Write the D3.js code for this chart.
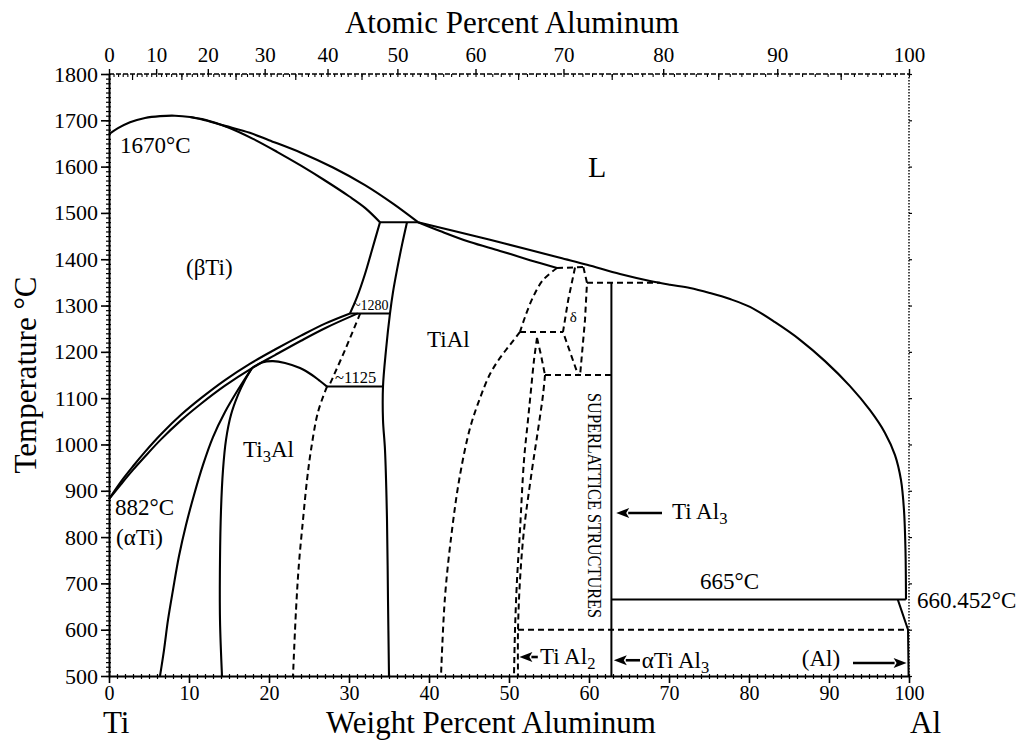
<!DOCTYPE html>
<html>
<head>
<meta charset="utf-8">
<script src="https://cdn.jsdelivr.net/npm/d3@7"></script>
<style>
  body { margin: 0; background: #fff; }
  svg { display: block; }
  text { font-family: "Liberation Serif", "Times New Roman", serif; fill: #000; }
</style>
</head>
<body>
<svg id="chart" width="1032" height="740"></svg>
<script>
// ---- Ti–Al phase diagram: boundaries as [wt% Al, °C] ----
const tempTicks = d3.range(500, 1801, 100);
const wtTicks = d3.range(0, 101, 10);
const atTicks = d3.range(0, 101, 10);

const liquidusBeta = [[0,1670],[1.125,1683],[2.625,1696],[4.5,1705],[6.375,1709],[8.25,1710],[10.125,1707],[12,1700],[14.5,1688],[17.6,1673],[20,1657],[24,1630],[28,1598],[32,1560],[35.5,1520],[38.625,1480]];
const solidusBeta = [[10.125,1707],[12,1701],[15,1684],[18,1660],[21,1632],[24,1602],[27,1570],[30,1536],[32,1511],[33.875,1480]];
const peritectic1480 = [[33.875,1480],[38.625,1480]];
const betaToAlpha = [[33.875,1480],[32.875,1420],[32,1368],[31,1318],[30.125,1283]];
const betaTransus = [[0,882],[1.5,920],[3,953],[4.5,984],[6.5,1022],[9,1064],[11.5,1100],[14.5,1139],[17.6,1174],[20.75,1205],[24,1235],[27,1261],[30.125,1283]];
const alphaTransus = [[0,882],[1.5,914],[3,945],[4.5,974],[6.5,1011],[9,1052],[11.5,1088],[14.5,1127],[17.875,1165],[20.75,1193],[24,1224],[27,1251],[31.1,1283]];
const gammaLeft = [[37.25,1480],[36.625,1431],[36,1377],[35.5,1329],[35.125,1283],[34.625,1204],[34.25,1125],[34.25,1053],[34.5,988],[34.75,837],[34.875,664],[35,500]];
const line1280 = [[30.125,1283],[35.125,1283]];
const line1125 = [[27.25,1125],[34.25,1125]];
const alphaGamma = [[31.4,1283],[29.5,1204],[27.5,1126]];
const ti3AlDome = [[17.875,1165],[19.125,1177],[20.5,1180],[22,1176],[23.875,1165],[25.375,1150],[26.375,1137],[27.25,1125]];
const alphaAlpha2 = [[6.375,500],[6.875,556],[7.375,621],[8,686],[8.75,759],[9.625,826],[10.625,891],[11.75,956],[13,1016],[14.5,1070],[16.125,1118],[17.875,1165]];
const alpha2Left = [[14.125,500],[13.875,621],[13.875,750],[14,858],[14.25,945],[14.625,1010],[15.25,1064],[16.125,1107],[17,1139],[17.875,1165]];
const alpha2Right = [[27.25,1125],[26.125,1070],[25.25,988],[24.75,923],[24.25,837],[23.75,744],[23.375,642],[23,500]];
const liquidusAl = [[38.625,1480],[42.625,1463],[47.625,1442],[52.625,1420],[56.375,1403],[59.75,1388],[63.875,1368],[67.625,1353],[70.125,1345],[72.625,1338],[75.125,1327],[77.625,1314],[80.125,1297],[83.25,1264],[86.375,1226],[89.5,1180],[92.625,1126],[95.125,1074],[97,1025],[98.25,977],[99,923],[99.375,858],[99.56,772],[99.625,665]];
const gammaSolidus = [[38.625,1480],[41.375,1461],[45.125,1437],[48.875,1418],[52.625,1398],[56,1381]];
const peritectic1380 = [[56,1381],[59.3,1383]];
const gammaRightUpper = [[56,1381],[54.25,1355],[53,1318],[52,1275],[51.375,1243]];
const gammaRightLower = [[51.375,1243],[50.125,1215],[48.875,1187],[47.625,1152],[46.375,1100],[45.125,1035],[43.875,934],[42.875,815],[42,671],[41.5,500]];
const line1240 = [[51.375,1243],[56.75,1243]];
const deltaLeft = [[58.25,1382],[57.4,1312],[56.75,1243],[58.6,1152]];
const deltaRight = [[59.3,1383],[59.75,1349],[59.5,1269],[58.9,1152]];
const line1350 = [[59.75,1349],[68.9,1349]];
const line1150 = [[54.5,1150],[62.8,1150]];
const tiAl2Left = [[53.5,1230],[53.125,1182],[52.75,1118],[52.375,1053],[51.875,966],[51.375,815],[51,707],[50.75,599],[50.625,500]];
const tiAl2RightUpper = [[53.5,1230],[54,1193],[54.5,1150]];
const tiAl2RightLower = [[54.5,1150],[54.25,1107],[53.625,1031],[52.875,945],[51.875,815],[51.375,707],[51.125,599],[51.125,500]];
const line600 = [[51.125,600],[99.9,600]];
const tiAl3 = [[62.8,1349],[62.8,500]];
const line665 = [[62.8,665],[99.6,665]];
const alSolvus = [[98.6,665],[99.875,600],[99.95,500]];

const solidCurves = [liquidusBeta, solidusBeta, betaToAlpha, betaTransus, alphaTransus, gammaLeft,
  ti3AlDome, alphaAlpha2, alpha2Left, liquidusAl, gammaSolidus];
const solidStraight = [peritectic1480, line1280, line1125, tiAl3, line665, alSolvus];
const dashedCurves = [alphaGamma, alpha2Right, gammaRightUpper, gammaRightLower, tiAl2Left, tiAl2RightLower];
const dashedStraight = [peritectic1380, line1240, deltaLeft, deltaRight, line1350, line1150, line600, tiAl2RightUpper];

// Annotations: [text parts, wt%, °C, font size]; parts flagged true are subscripts
const labels = [
  { parts: [["1670°C"]], wt: 1.375, T: 1629, size: 23 },
  { parts: [["L"]], wt: 59.875, T: 1578, size: 30 },
  { parts: [["(βTi)"]], wt: 9.625, T: 1366, size: 23 },
  { parts: [["TiAl"]], wt: 39.75, T: 1211, size: 23 },
  { parts: [["Ti"], ["3", true], ["Al"]], wt: 16.75, T: 973, size: 23 },
  { parts: [["~1280"]], wt: 30.5, T: 1290, size: 14 },
  { parts: [["~1125"]], wt: 28.25, T: 1133, size: 16.5 },
  { parts: [["882°C"]], wt: 0.75, T: 848, size: 23 },
  { parts: [["(αTi)"]], wt: 0.875, T: 783, size: 23 },
  { parts: [["665°C"]], wt: 73.875, T: 688, size: 23 },
  { parts: [["660.452°C"]], wt: 101, T: 647, size: 23 },
  { parts: [["(Al)"]], wt: 86.6, T: 522, size: 23 },
  { parts: [["Ti Al"], ["3", true]], wt: 70.375, T: 839, size: 23 },
  { parts: [["αTi Al"], ["3", true]], wt: 66.6, T: 518, size: 23 },
  { parts: [["Ti Al"], ["2", true]], wt: 53.875, T: 526, size: 23 },
  { parts: [["δ"]], wt: 57.6, T: 1264, size: 15 }
];

const arrows = [
  { from: [69.125, 852], to: [63.4, 852] },
  { from: [66.375, 534], to: [63.1, 534] },
  { from: [53.6, 541], to: [51.3, 541] },
  { from: [93, 528], to: [99.7, 528] }
];

// ---- Scales ----
const svg = d3.select("#chart");
const x = d3.scaleLinear().domain([0, 100]).range([109, 909]);
const y = d3.scaleLinear().domain([500, 1800]).range([676, 74]);

// Atomic percent -> weight percent aluminum
const M_AL = 26.982, M_TI = 47.867;
const wtFromAt = a => 100 * a * M_AL / (a * M_AL + (100 - a) * M_TI);
const atSteps = d3.range(0, 101, 1);
const atScale = d3.scaleLinear().domain(atSteps).range(atSteps.map(a => x(wtFromAt(a))));

const font = '"Liberation Serif", "Times New Roman", serif';
const intFmt = d3.format("d");

// ---- Frame & axes ----
// right edge (dotted)
svg.append("line")
  .attr("x1", x(100)).attr("x2", x(100)).attr("y1", y(1800)).attr("y2", y(500))
  .attr("stroke", "#000").attr("stroke-width", 1.4).attr("stroke-dasharray", "1.5,1.5");
svg.append("g").attr("transform", `translate(${x(100)},0)`)
  .call(d3.axisRight(y).tickValues(tempTicks).tickSize(3).tickFormat(""))
  .call(g => g.select(".domain").remove())
  .selectAll("line").attr("stroke-width", 1.2);

// top line (dashed look)
svg.append("line")
  .attr("x1", x(0)).attr("x2", x(100)).attr("y1", y(1800)).attr("y2", y(1800))
  .attr("stroke", "#000").attr("stroke-width", 1.5).attr("stroke-dasharray", "5,2");

// left axis
svg.append("g").attr("transform", `translate(${x(0)},0)`)
  .call(d3.axisLeft(y).tickValues(d3.range(500, 1801, 10)).tickSize(3).tickFormat("").tickSizeOuter(0))
  .call(g => g.select(".domain").remove())
  .selectAll("line").attr("stroke-width", 1.2);
svg.append("g").attr("transform", `translate(${x(0)},0)`)
  .call(d3.axisRight(y).tickValues(d3.range(500, 1801, 10)).tickSize(2).tickFormat("").tickSizeOuter(0))
  .call(g => g.select(".domain").remove())
  .selectAll("line").attr("stroke-width", 1.2);
const leftAxis = svg.append("g").attr("transform", `translate(${x(0)},0)`)
  .call(d3.axisLeft(y).tickValues(tempTicks).tickFormat(intFmt).tickSize(8).tickPadding(3).tickSizeOuter(0));
leftAxis.attr("font-family", font).attr("font-size", 22);
leftAxis.select(".domain").attr("stroke-width", 2);
leftAxis.selectAll(".tick line").attr("stroke-width", 1.6);

// bottom axis
svg.append("g").attr("transform", `translate(0,${y(500)})`)
  .call(d3.axisBottom(x).tickValues(d3.range(0, 101, 1)).tickSize(3).tickFormat("").tickSizeOuter(0))
  .call(g => g.select(".domain").remove())
  .selectAll("line").attr("stroke-width", 1.2);
svg.append("g").attr("transform", `translate(0,${y(500)})`)
  .call(d3.axisTop(x).tickValues(d3.range(0, 101, 1)).tickSize(2).tickFormat("").tickSizeOuter(0))
  .call(g => g.select(".domain").remove())
  .selectAll("line").attr("stroke-width", 1.2);
const bottomAxis = svg.append("g").attr("transform", `translate(0,${y(500)})`)
  .call(d3.axisBottom(x).tickValues(wtTicks).tickFormat(intFmt).tickSize(7).tickPadding(3).tickSizeOuter(0));
bottomAxis.attr("font-family", font).attr("font-size", 20);
bottomAxis.select(".domain").attr("stroke-width", 2);
bottomAxis.selectAll(".tick line").attr("stroke-width", 1.6);

// top axis (atomic percent)
svg.append("g").attr("transform", `translate(0,${y(1800)})`)
  .call(d3.axisTop(atScale).tickValues(d3.range(0, 101, 1)).tickSize(-3).tickFormat("").tickSizeOuter(0))
  .call(g => g.select(".domain").remove())
  .selectAll("line").attr("stroke-width", 1.1);
svg.append("g").attr("transform", `translate(0,${y(1800)})`)
  .call(d3.axisTop(atScale).tickValues(d3.range(5, 100, 10)).tickSize(-6).tickFormat("").tickSizeOuter(0))
  .call(g => g.select(".domain").remove())
  .selectAll("line").attr("stroke-width", 1.2);
const topAxis = svg.append("g").attr("transform", `translate(0,${y(1800)})`)
  .call(d3.axisTop(atScale).tickValues(atTicks).tickFormat(intFmt).tickSize(5).tickPadding(7).tickSizeOuter(0));
topAxis.attr("font-family", font).attr("font-size", 21);
topAxis.select(".domain").remove();
topAxis.selectAll(".tick line").attr("stroke-width", 1.4);

// ---- Phase boundaries ----
const smooth = d3.line().x(d => x(d[0])).y(d => y(d[1])).curve(d3.curveCatmullRom.alpha(0.5));
const straight = d3.line().x(d => x(d[0])).y(d => y(d[1]));
const plot = svg.append("g").attr("fill", "none").attr("stroke", "#000").attr("stroke-linejoin", "round");

plot.selectAll(".solid-c").data(solidCurves).join("path")
  .attr("d", smooth).attr("stroke-width", 2.1);
plot.selectAll(".solid-s").data(solidStraight).join("path")
  .attr("d", straight).attr("stroke-width", 2);
plot.selectAll(".dash-c").data(dashedCurves).join("path")
  .attr("d", smooth).attr("stroke-width", 2).attr("stroke-dasharray", "6,4");
plot.selectAll(".dash-s").data(dashedStraight).join("path")
  .attr("d", straight).attr("stroke-width", 2).attr("stroke-dasharray", "6,4");

// ---- Arrows ----
const arrowG = svg.append("g");
arrows.forEach(a => {
  const x1 = x(a.from[0]), y1 = y(a.from[1]), x2 = x(a.to[0]), y2 = y(a.to[1]);
  const dx = x2 - x1, dy = y2 - y1, len = Math.hypot(dx, dy);
  const ux = dx / len, uy = dy / len, head = 13, half = 5;
  const bx = x2 - ux * head, by = y2 - uy * head;
  arrowG.append("line").attr("x1", x1).attr("y1", y1).attr("x2", bx + ux).attr("y2", by + uy)
    .attr("stroke", "#000").attr("stroke-width", 2.6);
  arrowG.append("polygon")
    .attr("points", [[x2, y2], [bx - uy * half, by + ux * half], [bx + ux * 3, by + uy * 3], [bx + uy * half, by - ux * half]].map(p => p.join(",")).join(" "))
    .attr("fill", "#000");
});

// ---- Region labels ----
const labelG = svg.append("g");
labels.forEach(l => {
  const t = labelG.append("text")
    .attr("x", x(l.wt)).attr("y", y(l.T)).attr("font-size", l.size);
  let down = false;
  l.parts.forEach(([s, sub]) => {
    const ts = t.append("tspan").text(s);
    if (sub && !down) { ts.attr("dy", l.size * 0.22).attr("font-size", l.size * 0.72); down = true; }
    else if (!sub && down) { ts.attr("dy", -l.size * 0.22); down = false; }
  });
});

// vertical label inside the TiAl3 field
svg.append("text")
  .attr("transform", `translate(${x(59.875)},${y(1111)}) rotate(90)`)
  .attr("font-size", 19)
  .attr("textLength", 225).attr("lengthAdjust", "spacingAndGlyphs")
  .text("SUPERLATTICE STRUCTURES");

// ---- Axis titles ----
svg.append("text").attr("x", 512).attr("y", 33).attr("text-anchor", "middle")
  .attr("font-size", 31).text("Atomic Percent Aluminum");
svg.append("text").attr("x", 491).attr("y", 733).attr("text-anchor", "middle")
  .attr("font-size", 31).text("Weight Percent Aluminum");
svg.append("text").attr("x", 103).attr("y", 733).attr("font-size", 31).text("Ti");
svg.append("text").attr("x", 910).attr("y", 733).attr("font-size", 31).text("Al");
svg.append("text").attr("transform", "translate(36,375) rotate(-90)").attr("text-anchor", "middle")
  .attr("font-size", 31).text("Temperature °C");
</script>
</body>
</html>
